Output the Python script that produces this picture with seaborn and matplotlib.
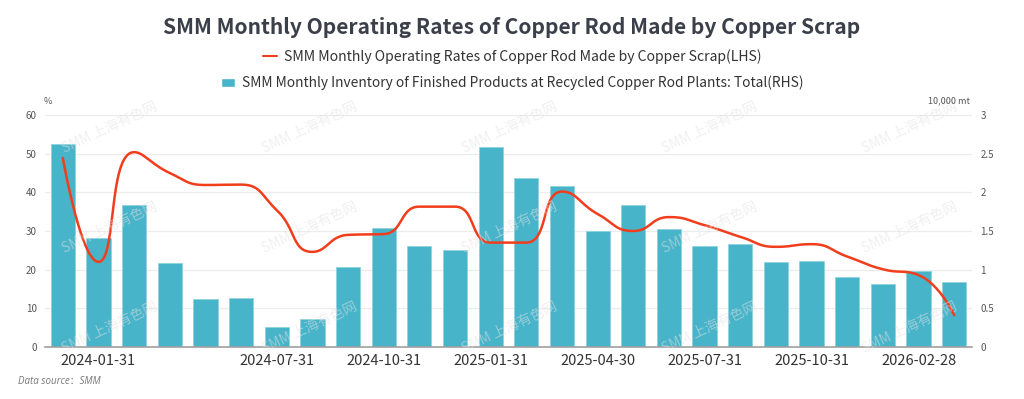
"""
Recreate the SMM chart: monthly operating rates of copper rod made by copper
scrap (line, LHS) vs. inventory of finished products at recycled copper rod
plants (bars, RHS).
"""

import numpy as np
import pandas as pd
import matplotlib
matplotlib.use("Agg")
import matplotlib.pyplot as plt
import seaborn as sns
from matplotlib.lines import Line2D
from matplotlib.patches import Patch

# ---- data ---------------------------------------------------------------
dates = [
    "2023-12-31", "2024-01-31", "2024-03-31", "2024-04-30", "2024-05-31",
    "2024-06-30", "2024-07-31", "2024-08-31", "2024-09-30", "2024-10-31",
    "2024-11-30", "2024-12-31", "2025-01-31", "2025-02-28", "2025-03-31",
    "2025-04-30", "2025-05-31", "2025-06-30", "2025-07-31", "2025-08-31",
    "2025-09-30", "2025-10-31", "2025-11-30", "2025-12-31", "2026-02-28",
    "2026-03-31",
]
shown_labels = ["2024-01-31", "2024-07-31", "2024-10-31", "2025-01-31",
                "2025-04-30", "2025-07-31", "2025-10-31", "2026-02-28"]

# operating rate, % (LHS)
operating_rate = [48.9, 22.0, 50.4, 45.0, 41.9, 42.0, 35.4, 24.6, 29.0,
                  29.2, 36.3, 36.3, 27.0, 27.0, 40.2, 34.4, 30.0, 33.6,
                  31.5, 28.5, 25.9, 26.6, 23.4, 20.1, 18.6, 8.2]

# inventory of finished products, 10,000 mt (RHS)
inventory = [2.62, 1.41, 1.84, 1.08, 0.62, 0.63, 0.26, 0.36, 1.04, 1.54,
             1.30, 1.26, 2.58, 2.18, 2.08, 1.50, 1.83, 1.53, 1.31, 1.33,
             1.10, 1.11, 0.90, 0.81, 0.98, 0.84]

line_label = "SMM Monthly Operating Rates of Copper Rod Made by Copper Scrap(LHS)"
bar_label = ("SMM Monthly Inventory of Finished Products at Recycled "
             "Copper Rod Plants: Total(RHS)")
title = "SMM Monthly Operating Rates of Copper Rod Made by Copper Scrap"

BAR_COLOR = "#48b4ca"
LINE_COLOR = "#f23d1c"
TEXT_COLOR = "#333333"
TICK_COLOR = "#555555"


def _clamp(v, a, b):
    return min(max(v, min(a, b)), max(a, b))


def smooth_curve(x, y, sx, sy, smooth=0.5, n=30):
    """Cubic bezier through every point with echarts' clamped control
    points (no overshoot).  Only used to draw the line."""
    px = list(np.asarray(x, float) * sx)
    py = list(np.asarray(y, float) * sy)
    k = len(px)
    cp_in = [(px[i], py[i]) for i in range(k)]
    cp_out = [(px[i], py[i]) for i in range(k)]
    for i in range(1, k - 1):
        x0, y0 = px[i - 1], py[i - 1]
        x1, y1 = px[i], py[i]
        x2, y2 = px[i + 1], py[i + 1]
        vx, vy = x2 - x0, y2 - y0
        len_prev = np.hypot(x1 - x0, y1 - y0)
        len_next = np.hypot(x2 - x1, y2 - y1)
        ratio = len_next / (len_next + len_prev)
        ncx = _clamp(x1 + vx * smooth * ratio, x2, x1)
        ncy = _clamp(y1 + vy * smooth * ratio, y2, y1)
        vx, vy = ncx - x1, ncy - y1
        pcx = _clamp(x1 - vx * len_prev / len_next, x0, x1)
        pcy = _clamp(y1 - vy * len_prev / len_next, y0, y1)
        vx, vy = x1 - pcx, y1 - pcy
        ncx = x1 + vx * len_next / len_prev
        ncy = y1 + vy * len_next / len_prev
        cp_in[i] = (pcx, pcy)
        cp_out[i] = (ncx, ncy)
    t = np.linspace(0, 1, n)[:, None]
    segs = []
    for i in range(k - 1):
        p0 = np.array([px[i], py[i]])
        p1 = np.array(cp_out[i])
        p2 = np.array(cp_in[i + 1])
        p3 = np.array([px[i + 1], py[i + 1]])
        seg = ((1 - t) ** 3) * p0 + 3 * ((1 - t) ** 2) * t * p1 \
            + 3 * (1 - t) * t ** 2 * p2 + t ** 3 * p3
        segs.append(seg if i == 0 else seg[1:])
    out = np.vstack(segs)
    return out[:, 0] / sx, out[:, 1] / sy


def main():
    sns.set_theme(style="white")
    plt.rcParams["font.family"] = ["Noto Sans CJK SC", "DejaVu Sans"]

    df = pd.DataFrame({"date": dates, "inventory": inventory,
                       "rate": operating_rate})
    xpos = np.arange(len(dates))

    fig = plt.figure(figsize=(10.24, 3.99), dpi=100)
    ax = fig.add_axes([45 / 1024, 1 - 347 / 399, 927 / 1024, 232 / 399])

    # bars (RHS values) on the base axes
    sns.barplot(data=df, x="date", y="inventory", ax=ax, color=BAR_COLOR,
                saturation=1, width=0.68, edgecolor="#8fd3e0", linewidth=0.6)
    ax.set_xlim(-0.5, len(dates) - 0.5)
    ax.set_xlabel("")
    ax.set_ylabel("")
    ax.set_xticks(xpos)
    ax.set_xticklabels([d if d in shown_labels else "" for d in dates])
    ax.tick_params(axis="x", length=0, labelsize=10.5, colors=TEXT_COLOR,
                   pad=5)

    # line (LHS values) on a twin axes so it sits above the bars
    ax2 = ax.twinx()

    # twinx moves the base ticks to the left, so set sides afterwards
    ax.set_ylim(0, 3)
    ax.yaxis.tick_right()
    ax.set_yticks([0, 0.5, 1, 1.5, 2, 2.5, 3])
    ax.set_yticklabels(["0", "0.5", "1", "1.5", "2", "2.5", "3"])
    ax.grid(axis="y", color="#ececec", linewidth=0.9)
    ax.set_axisbelow(True)
    for side in ["top", "left", "right"]:
        ax.spines[side].set_visible(False)
    ax.spines["bottom"].set_color("#a0a0a0")
    ax.spines["bottom"].set_linewidth(1.2)
    ax.tick_params(axis="y", length=0, labelsize=7, colors=TICK_COLOR, pad=6)

    ax2.set_ylim(0, 60)
    ax2.yaxis.tick_left()
    ax2.set_yticks([0, 10, 20, 30, 40, 50, 60])
    ax2.tick_params(axis="y", length=0, labelsize=7, colors=TICK_COLOR, pad=6)
    for side in ax2.spines:
        ax2.spines[side].set_visible(False)
    cx, cy = smooth_curve(xpos, operating_rate, 35.7, 3.867)
    ax2.plot(cx, cy, color=LINE_COLOR, linewidth=1.8, solid_capstyle="round")

    # unit labels
    fig.text(48 / 1024, 1 - 101 / 399, "%", fontsize=6.5, color=TICK_COLOR,
             ha="center", va="center")
    fig.text(970 / 1024, 1 - 101 / 399, "10,000 mt", fontsize=6.5,
             color=TICK_COLOR, ha="right", va="center")

    # watermark
    for wy in [128, 228, 328]:
        for wx in [110, 310, 510, 710, 910]:
            fig.text(wx / 1024, 1 - wy / 399, "SMM 上海有色网", fontsize=10,
                     color="#e2e2e2", alpha=0.5, rotation=25,
                     ha="center", va="center", zorder=0)

    # title + legends
    fig.text(0.5, 1 - 28 / 399, title, fontsize=15.1, fontweight="bold",
             color="#3a3f4a", ha="center", va="center")
    fig.legend(handles=[Line2D([0], [0], color=LINE_COLOR, linewidth=1.5)],
               labels=[line_label], loc="center", frameon=False,
               bbox_to_anchor=(0.5, 1 - 57 / 399), fontsize=10.1,
               handlelength=1.0, handletextpad=0.5, labelcolor=TEXT_COLOR)
    fig.legend(handles=[Patch(facecolor=BAR_COLOR)], labels=[bar_label],
               loc="center", frameon=False,
               bbox_to_anchor=(0.5, 1 - 83 / 399), fontsize=9.9,
               handlelength=1.0, handleheight=0.55, handletextpad=0.5,
               labelcolor=TEXT_COLOR)

    fig.text(18 / 1024, 1 - 381 / 399, "Data source：SMM", fontsize=7,
             style="italic", family=["Open Sans", "Noto Sans CJK SC"],
             color="#777777", ha="left", va="center")

    fig.savefig("out.png", dpi=100)
    plt.close(fig)


if __name__ == "__main__":
    main()
